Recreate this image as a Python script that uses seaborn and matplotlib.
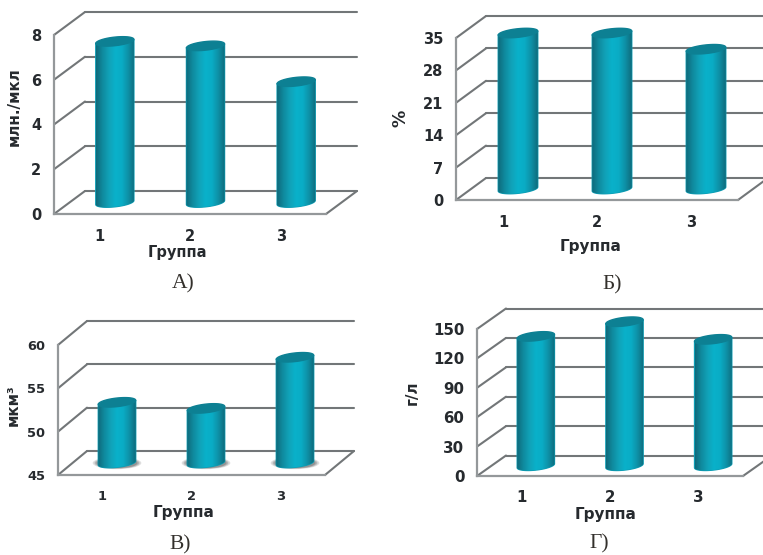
import numpy as np
import seaborn as sns
import matplotlib
matplotlib.use("Agg")
import matplotlib.pyplot as plt
from matplotlib.colors import LinearSegmentedColormap
from matplotlib.lines import Line2D
from matplotlib.patches import Ellipse
from matplotlib.transforms import Affine2D, IdentityTransform

# данные по панелям
groups = ["1", "2", "3"]
values_a = [7.2, 7.0, 5.4]
values_b = [33.7, 33.7, 30.2]
values_v = [52.0, 51.3, 57.2]
values_g = [132, 147, 129]
ticks_a = [0, 2, 4, 6, 8]
ticks_b = [0, 7, 14, 21, 28, 35]
ticks_v = [45, 50, 55, 60]
ticks_g = [0, 30, 60, 90, 120, 150]

W, H = 763, 555
LINE = "#727678"
FRONT = "#94989a"
TEXT = "#262a2e"
TOP = "#0d8093"
cyl = LinearSegmentedColormap.from_list(
    "cyl", ["#0f6a7b", "#0f8a9e", "#11a2b8", "#09b1ca", "#0aacc5", "#0e90a6", "#0e6b7c"])

sns.set_style("white")

fig = plt.figure(figsize=(W / 100, H / 100), dpi=100)


def panel(values, ticks, ylabel, caption, box, depth, label_xy, ylabel_xy, caption_xy,
          tick_size, label_size, ylabel_size, xpad, shadow=False):
    left, right, top, bottom = box
    dx, dy = depth
    ax = fig.add_axes([left / W, 1 - bottom / H, (right - left) / W, (bottom - top) / H])
    ax.patch.set_alpha(0)
    sns.barplot(x=groups, y=values, ax=ax, width=0.42, color="#0d9db4", saturation=1)
    ylim = (ticks[0], ticks[-1])
    ax.set_ylim(ylim)
    ax.set_yticks(ticks)
    sns.despine(ax=ax)
    for s in ["left", "bottom"]:
        ax.spines[s].set_color(FRONT)
        ax.spines[s].set_linewidth(1.6)
    ax.tick_params(axis="y", length=5, width=1.5, color=FRONT, pad=4, labelsize=tick_size, labelcolor=TEXT)
    ax.tick_params(axis="x", length=0, pad=xpad, labelsize=tick_size, labelcolor=TEXT)
    for t in ax.get_xticklabels() + ax.get_yticklabels():
        t.set_fontweight("bold")

    ax.set_xlabel("Группа", fontsize=label_size, fontweight="bold", color=TEXT, va="center")
    ax.xaxis.set_label_coords(label_xy[0], H - label_xy[1], transform=IdentityTransform())
    ax.set_ylabel(ylabel, fontsize=ylabel_size, fontweight="bold", color=TEXT, va="center")
    ax.yaxis.set_label_coords(ylabel_xy[0], H - ylabel_xy[1], transform=IdentityTransform())
    fig.text(caption_xy[0] / W, 1 - caption_xy[1] / H, caption, family="Liberation Serif",
             fontsize=15.5, color="#33302c", ha="center", va="center")

    # стенки и пол: задние линии сетки и диагонали
    back = ax.transData + Affine2D().translate(dx, dy)
    mid = ax.transData + Affine2D().translate(dx / 2, dy / 2)
    xlim = ax.get_xlim()
    for v in ticks:
        ax.add_line(Line2D(xlim, [v, v], transform=back, color=LINE, lw=1.5, clip_on=False, zorder=1))
        x0, y0 = ax.transData.transform((xlim[0], v))
        ax.add_line(Line2D([x0, x0 + dx], [y0, y0 + dy], transform=IdentityTransform(),
                           color=LINE, lw=1.5, clip_on=False, zorder=1))
    x0, y0 = ax.transData.transform((xlim[1], ylim[0]))
    ax.add_line(Line2D([x0, x0 + dx], [y0, y0 + dy], transform=IdentityTransform(),
                       color=LINE, lw=1.5, clip_on=False, zorder=1))

    # цилиндры строятся по столбцам seaborn
    per_px = (ylim[1] - ylim[0]) / (bottom - top)
    ry = 4.3 * per_px
    tilt = 2.0 * per_px
    t = np.linspace(0, 2 * np.pi, 90)
    grad = np.linspace(0, 1, 128)[None, :]
    for bar in ax.patches:
        w = bar.get_width()
        c = bar.get_x() + w / 2
        val = bar.get_height()
        bar.set_visible(False)
        if shadow:
            for scale, a in [(1.3, 0.25), (1.2, 0.4), (1.1, 0.6)]:
                ax.add_patch(Ellipse((c, ylim[0]), w * scale, 2.2 * ry * scale, transform=mid,
                                     color="#7c7c7c", alpha=a, lw=0, clip_on=False, zorder=2))
        # контур: нижняя дуга и прямые стенки
        tl = np.linspace(np.pi, 2 * np.pi, 45)
        xs = np.r_[c + w / 2 * np.cos(tl), c + w / 2, c - w / 2]
        ys = np.r_[ylim[0] + ry * np.sin(tl) + tilt * np.cos(tl), val + tilt, val - tilt]
        body = ax.fill(xs, ys, color="#0d9db4", transform=mid, clip_on=False, zorder=3)[0]
        im = ax.imshow(grad, cmap=cyl, aspect="auto", zorder=4, transform=mid,
                       extent=(c - w / 2, c + w / 2, ylim[0] - 2 * ry, val + 2 * ry))
        im.set_clip_box(fig.bbox)
        im.set_clip_path(body.get_path(), mid)
        ax.fill(c + w / 2 * np.cos(t), val + ry * np.sin(t) + tilt * np.cos(t), color=TOP,
                transform=mid, clip_on=False, zorder=5)
    ax.set_xlim(xlim)
    ax.set_ylim(ylim)


panel(values_a, ticks_a, "млн./мкл", "А)", (54, 326, 35, 214), (31, 23), (177, 252), (14, 107), (183, 284), 10.5, 10.5, 11, 11)
panel(values_b, ticks_b, "%", "Б)", (456, 738, 38, 200), (30, 22), (591, 246), (400, 118), (612, 285), 10.5, 11, 12.5, 11)
panel(values_v, ticks_v, "мкм³", "В)", (58, 325, 345, 475), (29, 24), (184, 513), (13, 405), (180, 545), 9.4, 11, 11, 10.5, shadow=True)
panel(values_g, ticks_g, "г/л", "Г)", (477, 743, 329, 476), (29, 20.5), (606, 515), (412, 393), (599, 544), 10.8, 11, 11, 10)

fig.savefig("out.png", dpi=100, facecolor="white")
